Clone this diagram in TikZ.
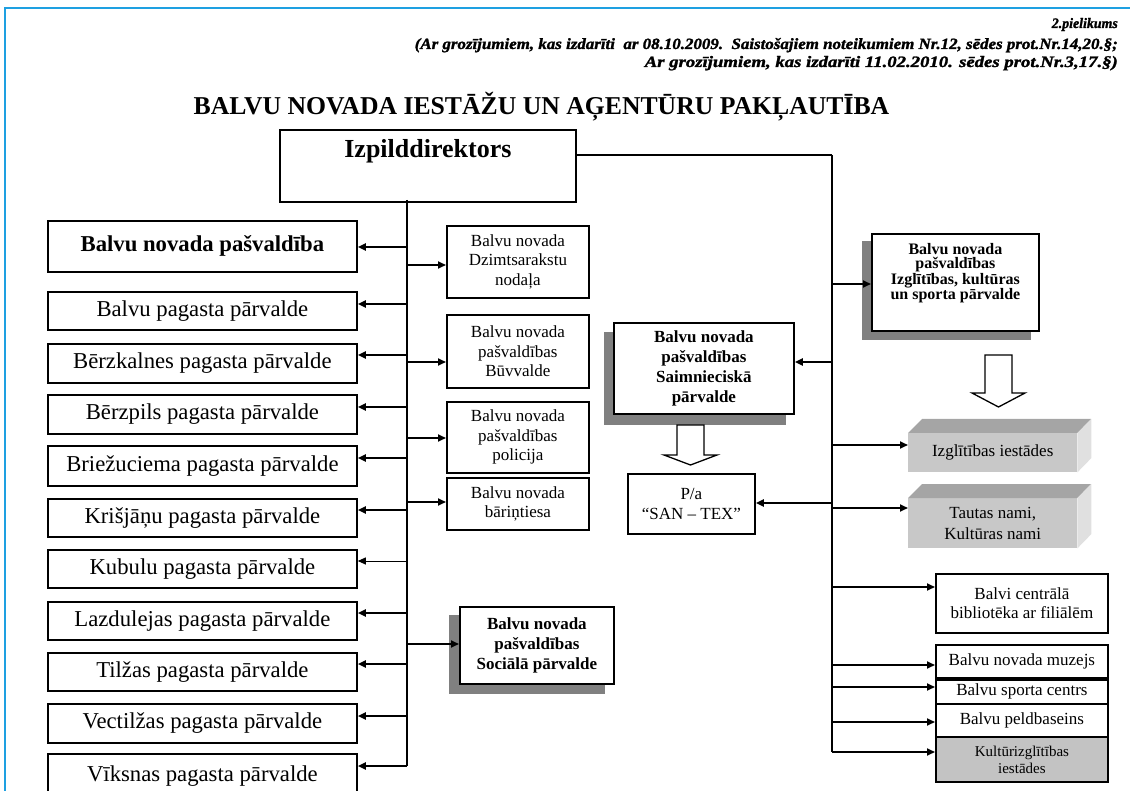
\documentclass[tikz,border=0pt]{standalone}
\usepackage{fontspec}
\setmainfont{Liberation Serif}
\usetikzlibrary{arrows.meta,calc,backgrounds}
\definecolor{frameblue}{RGB}{30,160,225}
\definecolor{shadowgray}{RGB}{128,128,128}
\definecolor{cubefront}{RGB}{200,200,200}
\definecolor{cubetop}{RGB}{165,165,165}
\definecolor{cubeside}{RGB}{224,224,224}
\definecolor{kultfill}{RGB}{195,195,195}
\begin{document}
\begin{tikzpicture}[x=1pt,y=-1pt,
  box/.style={draw, line width=1.8pt, fill=white, inner sep=0pt, align=center, anchor=north west},
  lbox/.style={box, minimum width=309pt, font=\fontsize{22.7}{26}\selectfont},
  mbox/.style={box, minimum width=142pt, font=\fontsize{17}{19.5}\selectfont},
  sbox/.style={box, font=\bfseries\fontsize{17}{20}\selectfont},
  rbox/.style={box, minimum width=172pt, font=\fontsize{17}{19.5}\selectfont},
  cube/.style={inner sep=0pt, fill=cubefront, minimum width=169pt, anchor=north west, align=center, font=\fontsize{17}{21}\selectfont},
  trunk/.style={line width=1.3pt},
  arr/.style={line width=1.8pt, -{Triangle[length=8pt,width=7pt]}},
  hollow/.style={draw, line width=1.3pt, fill=white, line join=miter},
  shadow/.style={fill=shadowgray},
  hdr/.style={anchor=base east, inner sep=0pt, font=\bfseries\itshape\addfontfeature{FakeBold=1.5}},
]
\clip (0,0) rectangle (1130,791);
% frame
\draw[frameblue, line width=2.5pt] (5,791) -- (5,8) -- (1130,8);

% header
\node[hdr] (h1) at (1118,28) {\resizebox{66pt}{10pt}{2.pielikums}};
\node[hdr] (h2) at (1118,49) {\resizebox{703pt}{11pt}{(Ar grozījumiem, kas izdarīti\ \ ar 08.10.2009.\ \ Saistošajiem noteikumiem Nr.12, sēdes prot.Nr.14,20.§;}};
\node[hdr] (h3) at (1118,67) {\resizebox{473pt}{11pt}{Ar grozījumiem, kas izdarīti 11.02.2010. sēdes prot.Nr.3,17.§)}};

% title
\node[anchor=base, inner sep=0pt, font=\bfseries\fontsize{25.7}{28}\selectfont] (title) at (541.5,115) {BALVU NOVADA IESTĀŽU UN AĢENTŪRU PAKĻAUTĪBA};

% director
\node[box, minimum width=296pt, minimum height=72pt] (izp) at (279,129) {};
\node[anchor=base, inner sep=0pt, font=\bfseries\fontsize{26}{28}\selectfont] (izpT) at (izp.north |- 0,158) {Izpilddirektors};

\coordinate (LT) at (407,200);
\coordinate (RT) at (832,155);

% left column
\node[lbox, minimum height=51pt, font=\bfseries\fontsize{22.7}{26}\selectfont] (lb1) at (47,220) {Balvu novada pašvaldība};
\node[lbox, minimum height=38pt] (lb2) at (47,291) {Balvu pagasta pārvalde};
\node[lbox, minimum height=39pt] (lb3) at (47,343) {Bērzkalnes pagasta pārvalde};
\node[lbox, minimum height=39pt] (lb4) at (47,394) {Bērzpils pagasta pārvalde};
\node[lbox, minimum height=40pt] (lb5) at (47,445) {Briežuciema pagasta pārvalde};
\node[lbox, minimum height=38pt] (lb6) at (47,498) {Krišjāņu pagasta pārvalde};
\node[lbox, minimum height=38pt] (lb7) at (47,549) {Kubulu pagasta pārvalde};
\node[lbox, minimum height=38pt] (lb8) at (47,601) {Lazdulejas pagasta pārvalde};
\node[lbox, minimum height=38pt] (lb9) at (47,652) {Tilžas pagasta pārvalde};
\node[lbox, minimum height=39pt] (lb10) at (47,703) {Vectilžas pagasta pārvalde};
\node[lbox, minimum height=44pt] (lb11) at (47,753) {Vīksnas pagasta pārvalde};

% middle column
\node[mbox, minimum height=72pt] (m1) at (446,225) {Balvu novada\\Dzimtsarakstu\\nodaļa};
\node[mbox, minimum height=73pt] (m2) at (446,314) {Balvu novada\\pašvaldības\\Būvvalde};
\node[mbox, minimum height=71pt] (m3) at (446,401) {Balvu novada\\pašvaldības\\policija};
\node[mbox, minimum height=52pt] (m4) at (446,477) {Balvu novada\\bāriņtiesa};
\node[sbox, minimum width=154pt, minimum height=77pt] (soc) at (459,606) {Balvu novada\\pašvaldības\\Sociālā pārvalde};

% centre
\node[sbox, minimum width=180pt, minimum height=91pt] (saim) at (613,322) {Balvu novada\\pašvaldības\\Saimnieciskā\\pārvalde};
\node[mbox, minimum width=127pt, minimum height=60pt] (san) at (627,473) {P/a\\“SAN – TEX”};

% right column
\node[box, minimum width=167pt, minimum height=97pt] (ikus) at (871,233) {};
\node[anchor=north, inner sep=0pt, align=center, font=\bfseries\fontsize{16}{14.5}\selectfont] (ikusT) at (ikus.north |- 0,243) {Balvu novada\\pašvaldības\\Izglītības, kultūras\\un sporta pārvalde};

\node[cube, minimum height=39pt] (ii) at (908,433) {Izglītības iestādes};
\fill[cubetop] (ii.north west) -- ++(14,-14) -- ++(169,0) -- (ii.north east) -- cycle;
\fill[cubeside] (ii.north east) -- ++(14,-14) -- ++(0,39) -- (ii.south east) -- cycle;

\node[cube, minimum height=50pt] (tn) at (908,498) {Tautas nami,\\Kultūras nami};
\fill[cubetop] (tn.north west) -- ++(14,-14) -- ++(169,0) -- (tn.north east) -- cycle;
\fill[cubeside] (tn.north east) -- ++(14,-14) -- ++(0,50) -- (tn.south east) -- cycle;

\node[rbox, minimum height=59pt] (bc) at (935,573) {Balvi centrālā\\bibliotēka ar filiālēm};
\node[rbox, minimum height=33pt] (muz) at (935,644) {Balvu novada muzejs};
\node[rbox, minimum height=24pt] (spc) at (935,679) {Balvu sporta centrs};
\node[rbox, minimum height=33pt] (pel) at (935,703) {Balvu peldbaseins};
\node[rbox, minimum height=45pt, fill=kultfill, font=\fontsize{15}{17}\selectfont] (kie) at (935,736) {Kultūrizglītības\\iestādes};

% shadows
\begin{scope}[on background layer]
  \fill[shadow] ([shift={(-9,10)}]saim.north west) rectangle ([shift={(-9,10)}]saim.south east);
  \fill[shadow] ([shift={(-9,8)}]ikus.north west) rectangle ([shift={(-9,8)}]ikus.south east);
  \fill[shadow] ([shift={(-10,9)}]soc.north west) rectangle ([shift={(-10,9)}]soc.south east);
\end{scope}

% trunks
\draw[trunk] (LT) -- (LT |- 0,766);
\draw[line width=1.6pt] (izp.east |- RT) -- (RT);
\draw[trunk] (RT) -- (RT |- 0,752);

% left trunk arrows
\foreach \n/\y in {lb1/247, lb2/304, lb3/355, lb4/407, lb5/458, lb6/510, lb8/613, lb9/664, lb10/716, lb11/766}
  \draw[arr] (LT |- 0,\y) -- (\n.east |- 0,\y);
\draw[arr, line width=1pt] (LT |- 0,561) -- (lb7.east |- 0,561);
\foreach \n/\y in {m1/265, m2/362, m3/438, m4/502, soc/644}
  \draw[arr] (LT |- 0,\y) -- (\n.west |- 0,\y);

% right trunk arrows
\foreach \n/\y in {saim/362, san/503}
  \draw[arr] (RT |- 0,\y) -- (\n.east |- 0,\y);
\foreach \n/\y in {ikus/284, ii/445, tn/508, bc/587, muz/665, spc/687, pel/722, kie/752}
  \draw[arr] (RT |- 0,\y) -- (\n.west |- 0,\y);

% hollow arrows
\draw[hollow] (677,425) -- (704,425) -- (704,455) -- (717,455) -- (690.5,465) -- (664,455) -- (677,455) -- cycle;
\draw[hollow] (985,355) -- (1012,355) -- (1012,393) -- (1025,393) -- (998.5,407) -- (972,393) -- (985,393) -- cycle;
\end{tikzpicture}
\end{document}
